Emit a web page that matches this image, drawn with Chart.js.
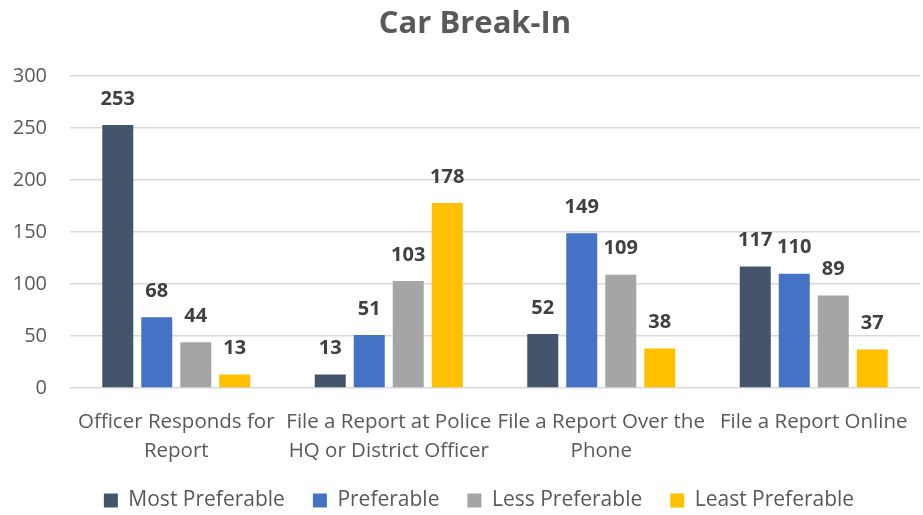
<!DOCTYPE html>
<html>
<head>
<meta charset="utf-8">
<script src="https://cdn.jsdelivr.net/npm/chart.js@4"></script>
<style>
  html, body { margin: 0; padding: 0; background: #fff; }
  #wrap { width: 923px; height: 515px; }
</style>
</head>
<body>
<div id="wrap"><canvas id="breakInChart"></canvas></div>
<script>
const categories = [
    ['Officer Responds for', 'Report'],
    ['File a Report at Police', 'HQ or District Officer'],
    ['File a Report Over the', 'Phone'],
    ['File a Report Online']
];
const mostPreferable = [253, 13, 52, 117];
const preferable = [68, 51, 149, 110];
const lessPreferable = [44, 103, 109, 89];
const leastPreferable = [13, 178, 38, 37];
const yTicks = [0, 50, 100, 150, 200, 250, 300];

const FONT = "'Open Sans', sans-serif";

// draws the bold value above every bar
const valueLabels = {
    id: 'valueLabels',
    afterDatasetsDraw(chart) {
        const ctx = chart.ctx;
        ctx.save();
        ctx.font = "bold 20px " + FONT;
        ctx.fillStyle = '#404040';
        ctx.textAlign = 'center';
        ctx.textBaseline = 'middle';
        chart.data.datasets.forEach((ds, i) => {
            chart.getDatasetMeta(i).data.forEach((bar, j) => {
                ctx.fillText(ds.data[j], bar.x, bar.y - 26);
            });
        });
        ctx.restore();
    }
};

// title and legend sit a bit right of the canvas centre in the original
const nudgeBoxes = {
    id: 'nudgeBoxes',
    afterLayout(chart) {
        if (chart.titleBlock) { chart.titleBlock.left += 10; chart.titleBlock.right += 10; }
        if (chart.legend) {
            chart.legend.left += 14; chart.legend.right += 14;
            chart.legend.top -= 6; chart.legend.bottom -= 6;
        }
    }
};

const ctx = document.getElementById('breakInChart').getContext('2d');
const breakInChart = new Chart(ctx, {
    type: 'bar',
    data: {
        labels: categories,
        datasets: [
            { label: 'Most Preferable', data: mostPreferable, backgroundColor: '#44546A' },
            { label: 'Preferable', data: preferable, backgroundColor: '#4472C4' },
            { label: 'Less Preferable', data: lessPreferable, backgroundColor: '#A5A5A5' },
            { label: 'Least Preferable', data: leastPreferable, backgroundColor: '#FFC000' }
        ]
    },
    options: {
        responsive: true,
        maintainAspectRatio: false,
        animation: false,
        categoryPercentage: 0.734,
        barPercentage: 0.795,
        layout: { padding: { left: 10, right: 3, top: 6, bottom: -12 } },
        plugins: {
            title: {
                display: true,
                text: 'Car Break-In',
                color: '#595959',
                font: { family: FONT, size: 31, weight: 'bold' },
                padding: { top: 0, bottom: 33 }
            },
            legend: {
                display: true,
                position: 'bottom',
                labels: {
                    color: '#595959',
                    font: { family: FONT, size: 21 },
                    boxWidth: 14,
                    boxHeight: 14,
                    padding: 28
                }
            },
            tooltip: { enabled: false }
        },
        scales: {
            x: {
                grid: { display: false },
                border: { display: false },
                afterFit(axis) { axis.height = 80; },
                ticks: {
                    color: '#595959',
                    font: { family: FONT, size: 20.5, lineHeight: 1.4 },
                    maxRotation: 0,
                    autoSkip: false,
                    padding: 12
                }
            },
            y: {
                min: 0,
                max: 300,
                afterBuildTicks(axis) { axis.ticks = yTicks.map(v => ({ value: v })); },
                afterFit(axis) { axis.width = 60; },
                grid: { color: '#D9D9D9', lineWidth: 1.5, drawTicks: false },
                border: { display: false },
                ticks: {
                    color: '#595959',
                    font: { family: FONT, size: 20 },
                    padding: 23
                }
            }
        }
    },
    plugins: [valueLabels, nudgeBoxes]
});
</script>
</body>
</html>
